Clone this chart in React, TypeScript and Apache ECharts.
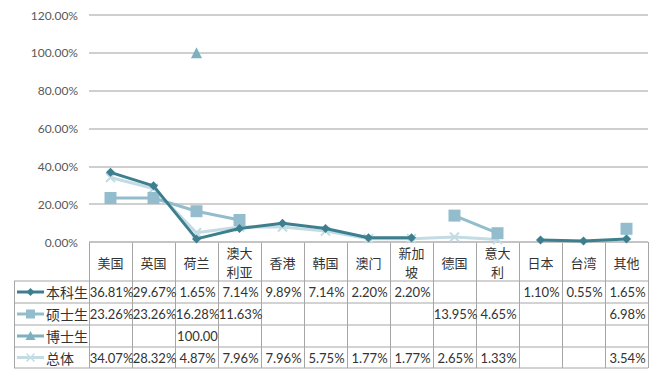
import React, { useEffect, useRef } from "react";
import * as echarts from "echarts";

const categories = ["美国", "英国", "荷兰", "澳大\n利亚", "香港", "韩国", "澳门", "新加\n坡", "德国", "意大\n利", "日本", "台湾", "其他"];
const seriesNames = ["本科生", "硕士生", "博士生", "总体"];
const undergrad = [36.81, 29.67, 1.65, 7.14, 9.89, 7.14, 2.2, 2.2, null, null, 1.1, 0.55, 1.65];
const master = [23.26, 23.26, 16.28, 11.63, null, null, null, null, 13.95, 4.65, null, null, 6.98];
const doctor = [null, null, 100, null, null, null, null, null, null, null, null, null, null];
const overall = [34.07, 28.32, 4.87, 7.96, 7.96, 5.75, 1.77, 1.77, 2.65, 1.33, null, null, 3.54];
const yTicks = [0, 20, 40, 60, 80, 100, 120];

const colors = ["#3d7f8e", "#93bdcc", "#7db1be", "#c3dce3"];
const allData = [undergrad, master, doctor, overall];

const W = 669, H = 382;
const gLeft = 89, gRight = 21, gTop = 15, gBottom = 140;
const tableLeft = 14;
const rowLines = [242, 281, 303, 325, 347, 368];

function fmt(v: number | null) {
  if (v == null) return "";
  if (v >= 100) return v.toFixed(2);
  return v.toFixed(2) + "%";
}

export default function App() {
  const ref = useRef<HTMLDivElement>(null);
  useEffect(() => {
    if (!ref.current) return;
    const chart = echarts.init(ref.current, null, { renderer: "svg" });
    const plotW = W - gLeft - gRight;
    const colW = plotW / categories.length;
    const right = W - gRight;
    const lineStyle = { stroke: "#a6a6a6", lineWidth: 1 };
    const graphics: any[] = [];
    rowLines.forEach((y, i) => {
      graphics.push({ type: "line", shape: { x1: i === 0 ? gLeft : tableLeft, y1: y, x2: right, y2: y }, style: lineStyle, silent: true });
    });
    for (let i = 0; i <= categories.length; i++) {
      const x = Math.round(gLeft + i * colW) + 0.5;
      graphics.push({ type: "line", shape: { x1: x, y1: rowLines[0], x2: x, y2: rowLines[5] }, style: lineStyle, silent: true });
    }
    graphics.push({ type: "line", shape: { x1: tableLeft + 0.5, y1: rowLines[1], x2: tableLeft + 0.5, y2: rowLines[5] }, style: lineStyle, silent: true });
    seriesNames.forEach((name, r) => {
      const cy = (rowLines[r + 1] + rowLines[r + 2]) / 2;
      const c = colors[r];
      graphics.push({ type: "line", shape: { x1: 17, y1: cy, x2: 44, y2: cy }, style: { stroke: c, lineWidth: 3 }, silent: true });
      const mx = 30.5;
      if (r === 0) graphics.push({ type: "polygon", shape: { points: [[mx, cy - 4], [mx + 4, cy], [mx, cy + 4], [mx - 4, cy]] }, style: { fill: c }, silent: true });
      if (r === 1) graphics.push({ type: "rect", shape: { x: mx - 4.5, y: cy - 4.5, width: 9, height: 9 }, style: { fill: c }, silent: true });
      if (r === 2) graphics.push({ type: "polygon", shape: { points: [[mx, cy - 5], [mx + 5, cy + 4], [mx - 5, cy + 4]] }, style: { fill: c }, silent: true });
      if (r === 3) {
        graphics.push({ type: "line", shape: { x1: mx - 4, y1: cy - 4, x2: mx + 4, y2: cy + 4 }, style: { stroke: c, lineWidth: 1.5 }, silent: true });
        graphics.push({ type: "line", shape: { x1: mx + 4, y1: cy - 4, x2: mx - 4, y2: cy + 4 }, style: { stroke: c, lineWidth: 1.5 }, silent: true });
      }
      graphics.push({ type: "text", x: 46, y: cy, style: { text: name, fill: "#333", font: '14px "Noto Sans CJK SC"', textAlign: "left", textVerticalAlign: "middle" }, silent: true });
      allData[r].forEach((v, i) => {
        const t = fmt(v);
        if (!t) return;
        const cx = gLeft + (i + 0.5) * colW + 1;
        graphics.push({ type: "text", x: cx, y: cy, style: { text: t, fill: "#333", font: '13px Lato', textAlign: "center", textVerticalAlign: "middle" }, silent: true });
      });
    });

    const symbols = ["diamond", "rect", "triangle", "path://M0,0L10,10M10,0L0,10"];
    const sizes = [9, 12, 11, 9];
    chart.setOption({
      animation: false,
      backgroundColor: "#ffffff",
      grid: { left: gLeft, right: gRight, top: gTop, bottom: gBottom, containLabel: false },
      xAxis: {
        type: "category",
        data: categories,
        boundaryGap: true,
        axisLine: { show: false },
        axisTick: { show: false },
        axisLabel: {
          interval: 0,
          margin: 20,
          verticalAlign: "middle",
          color: "#333",
          fontSize: 13,
          lineHeight: 19,
          fontFamily: "Noto Sans CJK SC",
        },
      },
      yAxis: {
        type: "value",
        min: yTicks[0],
        max: yTicks[yTicks.length - 1],
        interval: 20,
        axisLine: { show: false },
        axisTick: { show: false },
        axisLabel: {
          formatter: (v: number) => v.toFixed(2) + "%",
          color: "#595959",
          fontSize: 12,
          fontFamily: "Lato",
          margin: 11,
        },
        splitLine: { lineStyle: { color: "#bfbfbf", width: 1.5 } },
      },
      series: seriesNames.map((name, r) => ({
        name,
        type: "line",
        data: allData[r],
        connectNulls: false,
        symbol: symbols[r],
        symbolSize: sizes[r],
        showAllSymbol: true,
        lineStyle: { color: colors[r], width: 3 },
        itemStyle: r === 3 ? { color: colors[r], borderColor: colors[r], borderWidth: 2 } : { color: colors[r] },
        z: [5, 3, 4, 2][r],
      })),
      graphic: graphics,
    });
    return () => chart.dispose();
  }, []);
  return <div ref={ref} style={{ position: "fixed", left: 0, top: 0, width: W, height: H }} />;
}
